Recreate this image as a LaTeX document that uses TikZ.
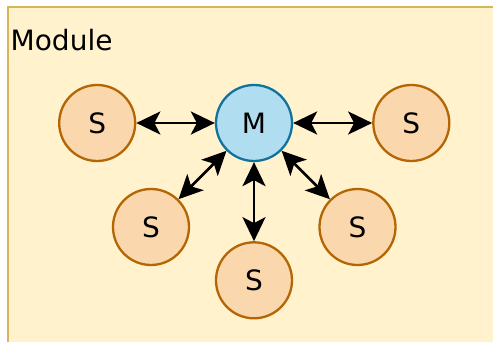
\documentclass[tikz,border=0pt]{standalone}
\usepackage{fontspec}
\setmainfont{DejaVu Sans}
\usepackage{xcolor}
\usetikzlibrary{arrows.meta,positioning}

\definecolor{modfill}{HTML}{FFF2CC}
\definecolor{moddraw}{HTML}{D6B656}
\definecolor{mfill}{HTML}{B1DDF0}
\definecolor{mdraw}{HTML}{10739E}
\definecolor{sfill}{HTML}{FAD7AC}
\definecolor{sdraw}{HTML}{B46504}

\begin{document}
\begin{tikzpicture}[
    x=1pt, y=-1pt,
    >={Stealth[length=24pt, width=23pt, inset=6pt]},
    node distance=77pt,
    unit/.style={circle, line width=2.3pt, minimum size=76pt, inner sep=0pt, font=\fontsize{28}{33}\selectfont},
    mastercirc/.style={unit, draw=mdraw, fill=mfill},
    slavecirc/.style={unit, draw=sdraw, fill=sfill},
    link/.style={<->, line width=2.7pt}
]
\useasboundingbox (0,0) rectangle (493,342);
\clip (0,0) rectangle (493,342);

% module frame, runs past the page on the right and bottom
\draw[draw=moddraw, fill=modfill, line width=2.6pt] (8,7) rectangle (520,370);
\node[anchor=base west, inner sep=0pt, font=\fontsize{28}{33}\selectfont] (title) at (10.5,51) {Module};

\node[mastercirc] (master) at (254,123) {M};
\node[slavecirc, left=78.5pt of master] (slaveW) {S};
\node[slavecirc, right=79pt of master] (slaveE) {S};
\node[slavecirc, below=79pt of master] (slaveS) {S};
\node[slavecirc] (slaveSW) at (151,227) {S};
\node[slavecirc] (slaveSE) at (357.5,227) {S};

\draw[link] (slaveW) -- (master);
\draw[link] (master) -- (slaveE);
\draw[link] (master) -- (slaveSW);
\draw[link] (master) -- (slaveS);
\draw[link] (master) -- (slaveSE);
\end{tikzpicture}
\end{document}
